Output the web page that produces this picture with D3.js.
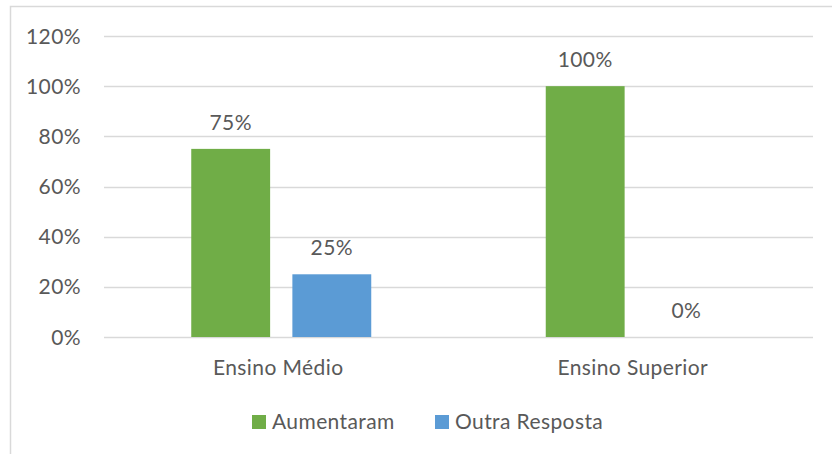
<!DOCTYPE html>
<html>
<head>
<meta charset="utf-8">
<script src="https://cdn.jsdelivr.net/npm/d3@7"></script>
<style>
  body { margin: 0; background: #fff; }
  text { font-family: Lato, "Open Sans", sans-serif; fill: #595959; font-size: 21px; letter-spacing: 0.4px; }
</style>
</head>
<body>
<div id="chart"></div>
<script>
// data
var categories = ["Ensino Médio", "Ensino Superior"];
var seriesNames = ["Aumentaram", "Outra Resposta"];
var aumentaram = [0.75, 1.00];
var outraResposta = [0.25, 0.00];
var yTicks = [0, 0.2, 0.4, 0.6, 0.8, 1.0, 1.2];

var colors = ["#70AD47", "#5B9BD5"];

var total_width = 832, total_height = 454;
var plot = {left: 104, right: 813, top: 36, bottom: 337};

var svg = d3.select("#chart").append("svg")
    .attr("width", total_width)
    .attr("height", total_height);

// chart frame (right and bottom edges fall outside the picture)
svg.append("rect")
    .attr("x", 10.5).attr("y", 6.5)
    .attr("width", 840).attr("height", 460)
    .attr("fill", "none")
    .attr("stroke", "#D9D9D9")
    .attr("stroke-width", 1.5);

var x0 = d3.scaleBand()
    .domain(categories)
    .range([plot.left, plot.right])
    .paddingInner(0)
    .paddingOuter(0);

var x1 = d3.scaleBand()
    .domain(seriesNames)
    .range([x0.bandwidth() / 2 - 90, x0.bandwidth() / 2 + 90])
    .paddingInner(0.22);

var y = d3.scaleLinear()
    .domain([0, 1.2])
    .range([plot.bottom, plot.top]);

// gridlines
svg.append("g")
    .selectAll("line")
    .data(yTicks)
    .enter()
    .append("line")
      .attr("x1", plot.left)
      .attr("x2", plot.right)
      .attr("y1", d => Math.round(y(d)) + 0.5)
      .attr("y2", d => Math.round(y(d)) + 0.5)
      .attr("stroke", "#D9D9D9")
      .attr("stroke-width", 1.3);

// y axis labels
svg.append("g")
    .selectAll("text")
    .data(yTicks)
    .enter()
    .append("text")
      .attr("x", 81)
      .attr("y", d => y(d) + 7.5)
      .attr("text-anchor", "end")
      .text(d => d3.format(".0%")(d));

var rows = categories.map(function(c, i) {
  return {cat: c, values: [aumentaram[i], outraResposta[i]]};
});

var groups = svg.append("g")
    .selectAll("g")
    .data(rows)
    .enter()
    .append("g")
      .attr("transform", d => "translate(" + x0(d.cat) + ",0)");

groups.selectAll("rect")
    .data(d => d.values.map((v, j) => ({name: seriesNames[j], value: v, color: colors[j]})))
    .enter()
    .append("rect")
      .attr("x", d => x1(d.name))
      .attr("width", x1.bandwidth())
      .attr("y", d => y(d.value))
      .attr("height", d => y(0) - y(d.value))
      .attr("fill", d => d.color);

// data labels
groups.selectAll("text.lbl")
    .data(d => d.values.map((v, j) => ({name: seriesNames[j], value: v})))
    .enter()
    .append("text")
      .attr("class", "lbl")
      .attr("x", d => x1(d.name) + x1.bandwidth() / 2)
      .attr("y", d => y(d.value) - 19)
      .attr("text-anchor", "middle")
      .text(d => d3.format(".0%")(d.value));

// x axis labels
svg.append("g")
    .selectAll("text")
    .data(categories)
    .enter()
    .append("text")
      .attr("x", d => x0(d) + x0.bandwidth() / 2 - 3)
      .attr("y", 375)
      .attr("text-anchor", "middle")
      .text(d => d);

// legend
var legendX = [252, 435];
var legend = svg.append("g")
    .selectAll("g")
    .data(seriesNames)
    .enter()
    .append("g")
      .attr("transform", (d, i) => "translate(" + legendX[i] + ",415)");

legend.append("rect")
    .attr("width", 14)
    .attr("height", 14)
    .attr("fill", (d, i) => colors[i]);

legend.append("text")
    .attr("x", 20)
    .attr("y", 14)
    .text(d => d);
</script>
</body>
</html>
